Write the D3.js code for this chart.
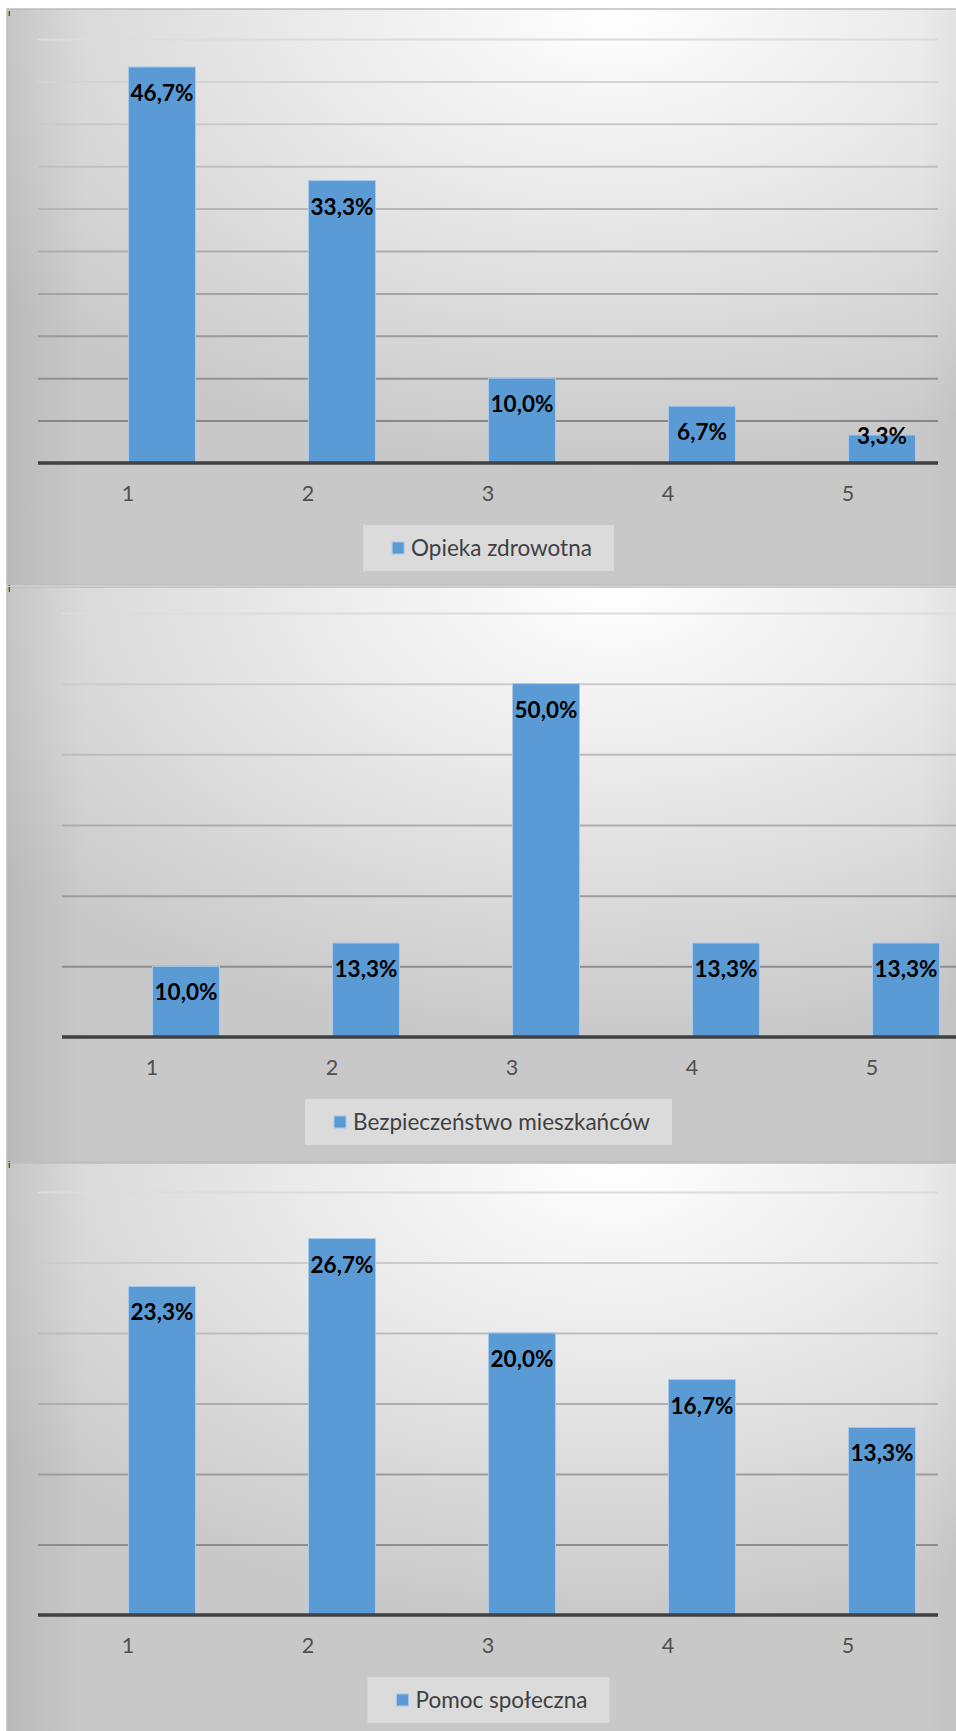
<!DOCTYPE html>
<html>
<head>
<meta charset="utf-8">
<script src="https://cdn.jsdelivr.net/npm/d3@7"></script>
<style>
html,body{margin:0;padding:0;background:#fff;overflow:hidden;}
svg{display:block;}
</style>
</head>
<body>
<svg id="c" width="956" height="1731"></svg>
<script>
// ---------- DATA ----------
const categories = ["1", "2", "3", "4", "5"];
const seriesNames = ["Opieka zdrowotna", "Bezpieczeństwo mieszkańców", "Pomoc społeczna"];
const valuesOpieka = [46.7, 33.3, 10.0, 6.7, 3.3];
const valuesBezp = [10.0, 13.3, 50.0, 13.3, 13.3];
const valuesPomoc = [23.3, 26.7, 20.0, 16.7, 13.3];
const gridOpieka = [0, 5, 10, 15, 20, 25, 30, 35, 40, 45, 50];
const gridBezp = [0, 10, 20, 30, 40, 50, 60];
const gridPomoc = [0, 5, 10, 15, 20, 25, 30];

// ---------- LAYOUT ----------
const charts = [
  {name: seriesNames[0], values: valuesOpieka, grid: gridOpieka, top: 9, bottom: 585, x0: 38, yTop: 39, yAxis: 463, mark: "ı"},
  {name: seriesNames[1], values: valuesBezp, grid: gridBezp, top: 587, bottom: 1162, x0: 62, yTop: 613, yAxis: 1037, mark: "i"},
  {name: seriesNames[2], values: valuesPomoc, grid: gridPomoc, top: 1163, bottom: 1740, x0: 38, yTop: 1192, yAxis: 1615, mark: "i"}
];

const svg = d3.select("#c");
const defs = svg.append("defs");
const FONT = "Lato, 'Open Sans', sans-serif";
const outerX = 7, outerW = 963;

charts.forEach((ch, i) => {
  const g = svg.append("g");
  const h = ch.bottom - ch.top;

  // background gradient
  const rg = defs.append("radialGradient").attr("id", "bg" + i)
    .attr("cx", 0.63).attr("cy", 0.0).attr("fx", 0.63).attr("fy", 0.0).attr("r", 0.8);
  rg.append("stop").attr("offset", 0).attr("stop-color", "#ffffff");
  rg.append("stop").attr("offset", 0.45).attr("stop-color", "#e8e8e8");
  rg.append("stop").attr("offset", 1).attr("stop-color", "#c8c8c8");
  const lg = defs.append("linearGradient").attr("id", "side" + i)
    .attr("x1", 0).attr("x2", 1).attr("y1", 0).attr("y2", 0);
  lg.append("stop").attr("offset", 0).attr("stop-color", "#000").attr("stop-opacity", 0.07);
  lg.append("stop").attr("offset", 0.08).attr("stop-color", "#000").attr("stop-opacity", 0);
  lg.append("stop").attr("offset", 0.95).attr("stop-color", "#000").attr("stop-opacity", 0);
  lg.append("stop").attr("offset", 1).attr("stop-color", "#000").attr("stop-opacity", 0.035);

  g.append("rect").attr("x", outerX).attr("y", ch.top).attr("width", outerW).attr("height", h)
    .attr("fill", `url(#bg${i})`);
  g.append("rect").attr("x", outerX).attr("y", ch.top).attr("width", outerW).attr("height", h)
    .attr("fill", `url(#side${i})`);
  g.append("rect").attr("x", outerX).attr("y", ch.top).attr("width", outerW).attr("height", h)
    .attr("fill", "none").attr("stroke", "#bdbdbd").attr("stroke-width", 1.5);

  // scales
  const x = d3.scaleBand().domain(categories).range([ch.x0, ch.x0 + 900]).paddingInner(0).paddingOuter(0);
  const y = d3.scaleLinear().domain([0, d3.max(ch.grid)]).range([ch.yAxis, ch.yTop]);

  // gridlines
  const yAxisGen = d3.axisLeft(y).tickValues(ch.grid.slice(1)).tickSize(-900).tickFormat("");
  const ga = g.append("g").attr("transform", `translate(${ch.x0},0)`).call(yAxisGen);
  ga.select(".domain").remove();
  ga.selectAll(".tick line").attr("stroke-width", 2).attr("x1", 0).attr("x2", 900)
    .each(function(d) {
      const t = (ch.yAxis - y(d)) / (ch.yAxis - ch.yTop);
      d3.select(this).attr("stroke", d3.interpolateRgb("#7e7e7e", "#dcdcdc")(t));
    });

  // bars
  const bw = 67;
  g.selectAll("rect.bar").data(ch.values).join("rect").attr("class", "bar")
    .attr("x", (d, k) => x(categories[k]) + x.bandwidth() / 2 + 0.5)
    .attr("y", d => y(d))
    .attr("width", bw)
    .attr("height", d => ch.yAxis - y(d))
    .attr("fill", "#5b9bd5")
    .attr("stroke", "#a8c8ec").attr("stroke-width", 1);

  // category axis
  const xAxisGen = d3.axisBottom(x).tickSize(0).tickPadding(0);
  const gx = g.append("g").attr("transform", `translate(0,${ch.yAxis})`).call(xAxisGen);
  gx.select(".domain").attr("stroke", "#404040").attr("stroke-width", 3.5)
    .attr("d", `M${ch.x0},0H${ch.x0 + 900}`);
  gx.selectAll(".tick text").attr("font-family", FONT).attr("font-size", 21.5)
    .attr("fill", "#505050").attr("dy", null).attr("y", 38);

  // data labels
  g.selectAll("text.lbl").data(ch.values).join("text").attr("class", "lbl")
    .attr("x", (d, k) => x(categories[k]) + x.bandwidth() / 2 + bw / 2 + 0.5)
    .attr("y", d => Math.min(y(d) + 34, ch.yAxis - 19))
    .attr("text-anchor", "middle")
    .attr("font-family", FONT).attr("font-weight", "bold").attr("font-size", 22.5)
    .attr("fill", "#000")
    .text(d => d.toFixed(1).replace(".", ",") + "%");

  // legend
  const lgG = g.append("g");
  const lt = lgG.append("text").attr("font-family", FONT).attr("font-size", 22.5)
    .attr("fill", "#404040").text(ch.name);
  const tw = lt.node().getComputedTextLength();
  const boxW = 29 + 12 + 7 + tw + 22;
  const cx = outerX + outerW / 2;
  const bx = cx - boxW / 2, by = ch.yAxis + 62;
  lgG.insert("rect", "text").attr("x", bx).attr("y", by).attr("width", boxW).attr("height", 46)
    .attr("fill", "#ffffff").attr("fill-opacity", 0.35);
  lgG.append("rect").attr("x", bx + 29).attr("y", by + 17).attr("width", 12).attr("height", 12)
    .attr("fill", "#5b9bd5").attr("stroke", "#a8c8ec").attr("stroke-width", 1);
  lt.attr("x", bx + 29 + 12 + 7).attr("y", by + 31);

  // stray paragraph mark
  g.append("text").attr("x", 8).attr("y", ch.top + (i === 0 ? 7 : 5))
    .attr("font-family", "'DejaVu Sans', sans-serif").attr("font-size", 9).attr("fill", "#000")
    .text(ch.mark);
});
</script>
</body>
</html>
